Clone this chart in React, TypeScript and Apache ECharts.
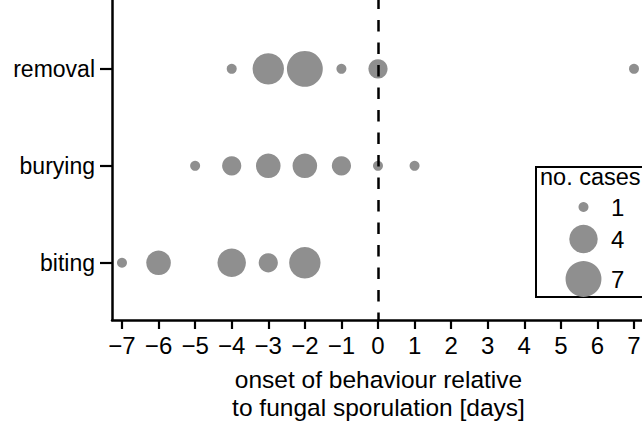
import React, { useEffect, useRef } from "react";
import * as echarts from "echarts";

// ---- data ----
const categories = ["biting", "burying", "removal"];
const xTicks = [-7, -6, -5, -4, -3, -2, -1, 0, 1, 2, 3, 4, 5, 6, 7];

const removalDays = [-4, -3, -2, -1, 0, 7];
const removalCases = [1, 5, 7, 1, 2, 1];

const buryingDays = [-5, -4, -3, -2, -1, 0, 1];
const buryingCases = [1, 2, 3, 3, 2, 1, 1];

const bitingDays = [-7, -6, -4, -3, -2];
const bitingCases = [1, 3, 4, 2, 5];

const legendCases = [1, 4, 7];
const legendTitle = "no. cases";

const FONT = "'Liberation Sans', Arial, sans-serif";
const GREY = "#8f8f8f";

const sizeOf = (n: number) => 10 + 13.3 * Math.log(n);

function buildPoints(days: number[], cases: number[], catIndex: number) {
  return days.map((d, i) => [d, catIndex + 1, cases[i]]);
}

export default function App() {
  const ref = useRef<HTMLDivElement>(null);

  useEffect(() => {
    if (!ref.current) return;
    const chart = echarts.init(ref.current, undefined, { renderer: "svg" });

    const points = [
      ...buildPoints(bitingDays, bitingCases, 0),
      ...buildPoints(buryingDays, buryingCases, 1),
      ...buildPoints(removalDays, removalCases, 2),
    ];

    const legendY = [207, 239, 279];
    const legendGraphics: any[] = [
      {
        type: "rect",
        shape: { x: 536, y: 167, width: 130, height: 130 },
        style: { fill: "#fff", stroke: "#000", lineWidth: 2 },
        z: 10,
      },
      {
        type: "text",
        x: 540,
        y: 177,
        style: {
          text: legendTitle,
          font: `23.5px ${FONT}`,
          fill: "#000",
          verticalAlign: "middle",
          align: "left",
        },
        z: 11,
      },
    ];
    legendCases.forEach((c, i) => {
      legendGraphics.push({
        type: "circle",
        shape: { cx: 583.5, cy: legendY[i], r: sizeOf(c) / 2 },
        style: { fill: GREY },
        z: 11,
      });
      legendGraphics.push({
        type: "text",
        x: 611,
        y: legendY[i],
        style: {
          text: String(c),
          font: `24px ${FONT}`,
          fill: "#000",
          verticalAlign: "middle",
          align: "left",
        },
        z: 11,
      });
    });

    chart.setOption({
      animation: false,
      backgroundColor: "#fff",
      grid: {
        left: 112,
        right: -8,
        top: 0,
        bottom: 101,
        containLabel: false,
        outerBoundsMode: "none",
      },
      xAxis: {
        type: "value",
        min: -7.273,
        max: 7.4375,
        splitLine: { show: false },
        axisLine: { show: true, onZero: false, lineStyle: { color: "#000", width: 2.5 } },
        axisTick: {
          show: true,
          length: 9,
          customValues: xTicks,
          lineStyle: { color: "#000", width: 2.2 },
        },
        axisLabel: {
          customValues: xTicks,
          margin: 13,
          fontSize: 24,
          fontFamily: FONT,
          color: "#000",
          formatter: (v: number) => (v < 0 ? "\u2212" + Math.abs(v) : String(v)),
        },
        name: "onset of behaviour relative\nto fungal sporulation [days]",
        nameLocation: "middle",
        nameGap: 45,
        nameTextStyle: {
          fontSize: 24.5,
          fontFamily: FONT,
          color: "#000",
          lineHeight: 28.5,
          padding: [0, 5, 0, 0],
        },
      },
      yAxis: {
        type: "value",
        min: 0.41,
        max: 3.71,
        splitLine: { show: false },
        axisLine: { show: true, onZero: false, lineStyle: { color: "#000", width: 2.5 } },
        axisTick: {
          show: true,
          length: 12,
          customValues: [1, 2, 3],
          lineStyle: { color: "#000", width: 2.2 },
        },
        axisLabel: {
          customValues: [1, 2, 3],
          margin: 17,
          fontSize: 23,
          fontFamily: FONT,
          color: "#000",
          formatter: (v: number) => categories[Math.round(v) - 1] ?? "",
        },
      },
      series: [
        {
          type: "line",
          data: [],
          z: 1,
          silent: true,
          markLine: {
            silent: true,
            symbol: "none",
            label: { show: false },
            lineStyle: { color: "#000", width: 2.5, type: [11.5, 11], dashOffset: 4 },
            data: [{ xAxis: 0 }],
          },
        },
        {
          type: "scatter",
          z: 3,
          data: points,
          symbolSize: (val: number[]) => sizeOf(val[2]),
          itemStyle: { color: GREY, opacity: 1 },
          silent: true,
        },
      ],
      graphic: legendGraphics,
    });

    return () => chart.dispose();
  }, []);

  return (
    <div
      ref={ref}
      style={{ position: "fixed", left: 0, top: 0, width: 642, height: 421 }}
    />
  );
}
